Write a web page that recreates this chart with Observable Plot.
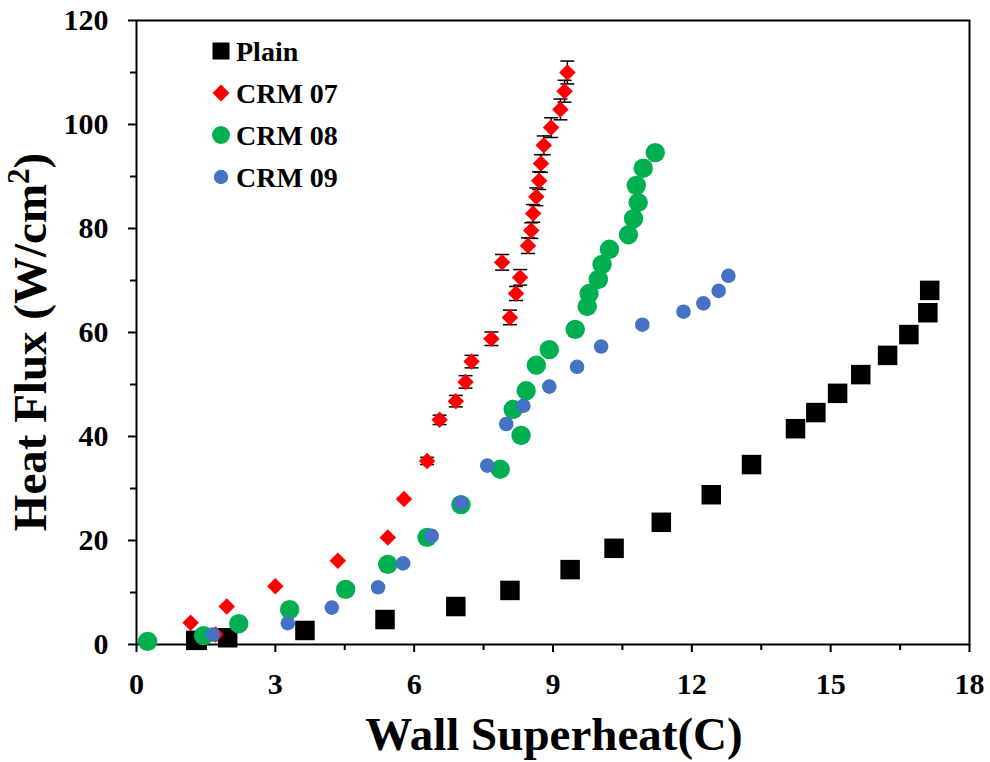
<!DOCTYPE html>
<html>
<head>
<meta charset="utf-8">
<script src="https://cdn.jsdelivr.net/npm/d3@7"></script>
<script src="https://cdn.jsdelivr.net/npm/@observablehq/plot@0.6"></script>
<style>
  html, body { margin: 0; padding: 0; background: #fff; }
  #chart svg { display: block; }
</style>
</head>
<body>
<div id="chart"></div>
<script>
// ---- Data ----
const plainX = [1.28, 1.97, 3.64, 5.37, 6.90, 8.07, 9.37, 10.32, 11.34, 12.42, 13.29, 14.24, 14.68, 15.15, 15.65, 16.23, 16.69, 17.10, 17.14];
const plainY = [0.8, 1.3, 2.7, 4.8, 7.3, 10.4, 14.4, 18.5, 23.5, 28.8, 34.6, 41.5, 44.6, 48.3, 51.9, 55.6, 59.6, 63.8, 68.1];

const crm07X = [1.17, 1.71, 1.95, 3.00, 4.35, 5.43, 5.78, 6.28, 6.55, 6.90, 7.11, 7.24, 7.67, 8.07, 8.20, 8.29, 7.90, 8.46, 8.53, 8.57, 8.64, 8.70, 8.74, 8.80, 8.96, 9.16, 9.25, 9.31];
const crm07Y = [4.2, 1.9, 7.3, 11.2, 16.1, 20.6, 28.0, 35.3, 43.2, 46.8, 50.5, 54.4, 58.8, 62.9, 67.5, 70.6, 73.5, 76.7, 79.6, 82.9, 86.1, 89.2, 92.5, 96.0, 99.4, 102.9, 106.4, 110.0];
const crm07Err = [0, 0, 0, 0, 0, 0, 0, 0.7, 0.9, 1.1, 1.2, 1.2, 1.3, 1.4, 1.35, 1.5, 1.5, 1.5, 1.5, 1.7, 1.7, 1.7, 1.7, 1.8, 1.9, 2.0, 2.1, 2.2];

const crm08X = [0.24, 1.45, 2.21, 3.31, 4.52, 5.43, 6.28, 7.01, 7.86, 8.31, 8.14, 8.42, 8.64, 8.92, 9.48, 9.74, 9.78, 9.98, 10.06, 10.22, 10.63, 10.74, 10.84, 10.80, 10.95, 11.21];
const crm08Y = [0.6, 1.7, 4.0, 6.7, 10.6, 15.4, 20.6, 26.9, 33.7, 40.2, 45.2, 48.8, 53.7, 56.7, 60.6, 65.0, 67.5, 70.2, 73.1, 76.0, 78.8, 81.9, 85.0, 88.3, 91.6, 94.6];

const crm09X = [1.65, 3.27, 4.22, 5.22, 5.76, 6.38, 7.01, 7.58, 7.99, 8.36, 8.92, 9.52, 10.04, 10.93, 11.82, 12.25, 12.58, 12.79];
const crm09Y = [1.9, 4.1, 7.1, 11.0, 15.6, 20.9, 27.2, 34.4, 42.4, 45.9, 49.6, 53.4, 57.3, 61.5, 64.0, 65.6, 68.0, 70.9];

const seriesNames = ["Plain", "CRM 07", "CRM 08", "CRM 09"];
const seriesColors = ["#000000", "#FF0000", "#00B050", "#4472C4"];

const xTicks = [0, 3, 6, 9, 12, 15, 18];
const xMinorTicks = [1.5, 4.5, 7.5, 10.5, 13.5, 16.5];
const yTicks = [0, 20, 40, 60, 80, 100, 120];
const yMinorTicks = [10, 30, 50, 70, 90, 110];

const xTitle = "Wall Superheat(C)";
const yTitleMain = "Heat Flux (W/cm";
const yTitleSup = "2";
const yTitleEnd = ")";

// ---- Build tables ----
const zip = (xs, ys) => xs.map((x, i) => ({x, y: ys[i]}));
const plain = zip(plainX, plainY);
const crm07 = crm07X.map((x, i) => ({x, y: crm07Y[i], e: crm07Err[i]}));
const crm07Bars = crm07.filter(d => d.e > 0);
const crm08 = zip(crm08X, crm08Y);
const crm09 = zip(crm09X, crm09Y);

const FONT = "'Liberation Serif', 'Times New Roman', Times, serif";

// custom symbols
const squareSym = (side) => ({draw(ctx) { const h = side / 2; ctx.rect(-h, -h, side, side); }});
const diamondSym = (w) => ({draw(ctx) { const h = w / 2; ctx.moveTo(0, -h); ctx.lineTo(h, 0); ctx.lineTo(0, h); ctx.lineTo(-h, 0); ctx.closePath(); }});
const capSym = {draw(ctx) { ctx.moveTo(-7, 0); ctx.lineTo(7, 0); }};

const chart = Plot.plot({
  width: 990,
  height: 762,
  marginLeft: 136,
  marginRight: 21,
  marginTop: 20,
  marginBottom: 118,
  x: {domain: [0, 18]},
  y: {domain: [0, 120]},
  style: {fontFamily: FONT, fontWeight: "bold", background: "#fff", color: "#000", overflow: "visible"},
  marks: [
    Plot.axisX(xTicks, {tickSize: 8, tickPadding: 20, fontSize: 30, fontWeight: "bold", label: null, strokeWidth: 2}),
    Plot.axisX(xMinorTicks, {tickSize: 6, text: null, label: null, strokeWidth: 2}),
    Plot.axisY(yTicks, {tickSize: 8, tickPadding: 20, fontSize: 30, fontWeight: "bold", label: null, strokeWidth: 2}),
    Plot.axisY(yMinorTicks, {tickSize: 6, text: null, label: null, strokeWidth: 2}),
    Plot.frame({stroke: "#000", strokeWidth: 2}),
    Plot.dot(plain, {x: "x", y: "y", symbol: squareSym(19.5), fill: seriesColors[0], stroke: "none", r: 1}),
    Plot.ruleX(crm07Bars, {x: "x", y1: d => d.y - d.e, y2: d => d.y + d.e, stroke: "#000", strokeWidth: 1.5}),
    Plot.dot(crm07Bars, {x: "x", y: d => d.y - d.e, symbol: capSym, stroke: "#000", strokeWidth: 1.5, fill: "none", r: 1}),
    Plot.dot(crm07Bars, {x: "x", y: d => d.y + d.e, symbol: capSym, stroke: "#000", strokeWidth: 1.5, fill: "none", r: 1}),
    Plot.dot(crm07, {x: "x", y: "y", symbol: diamondSym(16.5), fill: seriesColors[1], stroke: "none", r: 1}),
    Plot.dot(crm08, {x: "x", y: "y", r: 9.7, fill: seriesColors[2], stroke: "none"}),
    Plot.dot(crm09, {x: "x", y: "y", r: 7.3, fill: seriesColors[3], stroke: "none"})
  ]
});

document.getElementById("chart").appendChild(chart);

// ---- Titles and legend (real SVG text) ----
const svg = d3.select(chart);

svg.append("text")
  .attr("x", 554).attr("y", 750)
  .attr("text-anchor", "middle")
  .attr("font-family", FONT).attr("font-weight", "bold").attr("font-size", 47)
  .attr("fill", "#000")
  .text(xTitle);

const yt = svg.append("text")
  .attr("transform", "translate(46,342) rotate(-90)")
  .attr("text-anchor", "middle")
  .attr("font-family", FONT).attr("font-weight", "bold").attr("font-size", 47)
  .attr("fill", "#000");
yt.append("tspan").text(yTitleMain);
yt.append("tspan").attr("font-size", 31).attr("dy", -17).text(yTitleSup);
yt.append("tspan").attr("dy", 17).text(yTitleEnd);

const legendRows = [51, 93, 135, 177];
const lg = svg.append("g");
const mx = 221;
// Plain square
lg.append("rect").attr("x", mx - 8.5).attr("y", legendRows[0] - 8.5).attr("width", 17).attr("height", 17).attr("fill", seriesColors[0]);
// CRM 07 diamond
lg.append("path").attr("d", `M${mx},${legendRows[1] - 8.5}L${mx + 8.5},${legendRows[1]}L${mx},${legendRows[1] + 8.5}L${mx - 8.5},${legendRows[1]}Z`).attr("fill", seriesColors[1]);
// CRM 08 circle
lg.append("circle").attr("cx", mx).attr("cy", legendRows[2]).attr("r", 9).attr("fill", seriesColors[2]);
// CRM 09 circle
lg.append("circle").attr("cx", mx).attr("cy", legendRows[3]).attr("r", 7.2).attr("fill", seriesColors[3]);
seriesNames.forEach((name, i) => {
  lg.append("text")
    .attr("x", 236).attr("y", legendRows[i] + 9.5)
    .attr("text-anchor", "start")
    .attr("font-family", FONT).attr("font-weight", "bold").attr("font-size", 28)
    .attr("fill", "#000")
    .text(name);
});
</script>
</body>
</html>
